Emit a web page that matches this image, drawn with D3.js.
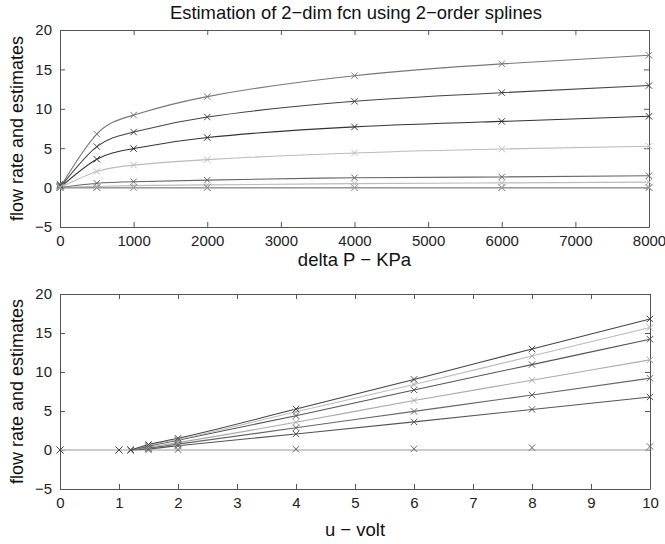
<!DOCTYPE html>
<html>
<head>
<meta charset="utf-8">
<script src="https://cdn.jsdelivr.net/npm/d3@7"></script>
<style>
  body { margin: 0; background: #fff; }
  svg { display: block; font-family: "Liberation Sans", Arial, sans-serif; }
</style>
</head>
<body>
<svg id="chart" width="665" height="544"></svg>
<script>
// grid of measurements: one row per voltage, one column per pressure
const pressure = [0, 500, 1000, 2000, 4000, 6000, 8000];
const voltage = [0, 1, 1.2, 1.5, 2, 4, 6, 8, 10];
const flow = [
  [0, 0, 0, 0, 0, 0, 0],
  [0, 0, 0, 0, 0, 0, 0],
  [0, 0, 0, 0, 0, 0, 0],
  [0, 0.15, 0.25, 0.35, 0.5, 0.6, 0.7],
  [0.05, 0.55, 0.75, 0.95, 1.25, 1.35, 1.5],
  [0.1, 2.05, 2.85, 3.55, 4.4, 4.9, 5.25],
  [0.15, 3.6, 4.95, 6.35, 7.7, 8.4, 9.05],
  [0.3, 5.2, 7.05, 8.95, 10.95, 12.05, 12.95],
  [0.45, 6.8, 9.2, 11.55, 14.2, 15.7, 16.8]
];
const voltageColors = ['#999', '#aaa', '#999', '#bbb', '#666', '#bbb', '#333', '#444', '#777'];
const pressureColors = ['#bbb', '#555', '#666', '#aaa', '#555', '#bbb', '#444'];
const pressureMarkerColors = ['#666', '#555', '#666', '#aaa', '#555', '#aaa', '#444'];
const pTicks = [0, 1000, 2000, 3000, 4000, 5000, 6000, 7000, 8000];
const uTicks = [0, 1, 2, 3, 4, 5, 6, 7, 8, 9, 10];
const yTicks = [-5, 0, 5, 10, 15, 20];

const svg = d3.select('#chart');

// spline fit passes through the origin when there is no pressure
const fitValue = (vi, pi) => pressure[pi] === 0 ? 0 : flow[vi][pi];

const drawPanel = (cfg) => {
  const { left, right, top, bottom, xDomain, xTicks, xLabel, xLabelY } = cfg;
  const x = d3.scaleLinear().domain(xDomain).range([left, right]);
  const y = d3.scaleLinear().domain([-5, 20]).range([bottom, top]);
  const g = svg.append('g');

  // frame with inward ticks on all four sides
  const frame = (sel) => {
    sel.select('.domain').attr('stroke', '#555');
    sel.selectAll('.tick line').attr('stroke', '#555');
    sel.selectAll('.tick text').attr('fill', '#222').attr('font-size', 15);
  };
  g.append('g').attr('transform', `translate(0,${bottom})`)
    .call(d3.axisBottom(x).tickValues(xTicks).tickSize(-5).tickSizeOuter(0).tickPadding(8).tickFormat(d3.format('d')))
    .call(frame);
  g.append('g').attr('transform', `translate(0,${top})`)
    .call(d3.axisTop(x).tickValues(xTicks).tickSize(-5).tickSizeOuter(0).tickFormat(''))
    .call(frame);
  g.append('g').attr('transform', `translate(${left},0)`)
    .call(d3.axisLeft(y).tickValues(yTicks).tickSize(-5).tickSizeOuter(0).tickPadding(8).tickFormat(d => d < 0 ? '\u2212' + Math.abs(d) : d))
    .call(frame);
  g.append('g').attr('transform', `translate(${right},0)`)
    .call(d3.axisRight(y).tickValues(yTicks).tickSize(-5).tickSizeOuter(0).tickFormat(''))
    .call(frame);

  g.selectAll('.tick text').filter(function () { return this.textContent === ''; }).remove();

  const line = d3.line().x(d => x(d[0])).y(d => y(d[1])).curve(cfg.curve);

  cfg.series.forEach(s => {
    g.append('path')
      .datum(s.fit)
      .attr('fill', 'none')
      .attr('stroke', s.color)
      .attr('stroke-width', s.width || 1.1)
      .attr('d', line);
  });

  cfg.series.forEach(s => {
    g.selectAll(null)
      .data(s.points)
      .enter().append('path')
      .attr('d', d => {
        const cx = x(d[0]), cy = y(d[1]), r = 3.2;
        return `M${cx - r},${cy - r}L${cx + r},${cy + r}M${cx - r},${cy + r}L${cx + r},${cy - r}`;
      })
      .attr('stroke', s.marker)
      .attr('stroke-width', 1);
  });

  g.append('text')
    .attr('x', (left + right) / 2)
    .attr('y', xLabelY)
    .attr('text-anchor', 'middle')
    .attr('font-size', 18.5)
    .attr('fill', '#111')
    .text(xLabel);

  g.append('text')
    .attr('transform', `translate(23,${(top + bottom) / 2}) rotate(-90)`)
    .attr('text-anchor', 'middle')
    .attr('font-size', 18)
    .attr('fill', '#111')
    .text('flow rate and estimates');
};

// top: flow vs pressure, one curve per voltage
drawPanel({
  left: 60, right: 649, top: 30, bottom: 227,
  xDomain: [0, 8000], xTicks: pTicks, curve: d3.curveNatural,
  xLabel: 'delta P \u2212 KPa', xLabelY: 266,
  series: voltage.map((u, vi) => ({
    color: voltageColors[vi],
    marker: voltageColors[vi],
    points: pressure.map((p, pi) => [p, flow[vi][pi]]),
    fit: pressure.map((p, pi) => [p, fitValue(vi, pi)])
  })).reverse()
});

// bottom: flow vs voltage, one line per pressure
drawPanel({
  left: 60, right: 650, top: 294, bottom: 489,
  xDomain: [0, 10], xTicks: uTicks, curve: d3.curveMonotoneX,
  xLabel: 'u \u2212 volt', xLabelY: 536,
  series: pressure.map((p, pi) => ({
    color: pressureColors[pi],
    marker: pressureMarkerColors[pi],
    width: p === 0 ? 1.6 : 1.1,
    points: voltage.map((u, vi) => [u, flow[vi][pi]]),
    fit: voltage.map((u, vi) => [u, fitValue(vi, pi)]).filter(d => p === 0 || d[0] >= 1.2)
  }))
});

svg.append('text')
  .attr('x', 356)
  .attr('y', 19)
  .attr('text-anchor', 'middle')
  .attr('font-size', 18.4)
  .attr('fill', '#111')
  .text('Estimation of 2\u2212dim fcn using 2\u2212order splines');
</script>
</body>
</html>
